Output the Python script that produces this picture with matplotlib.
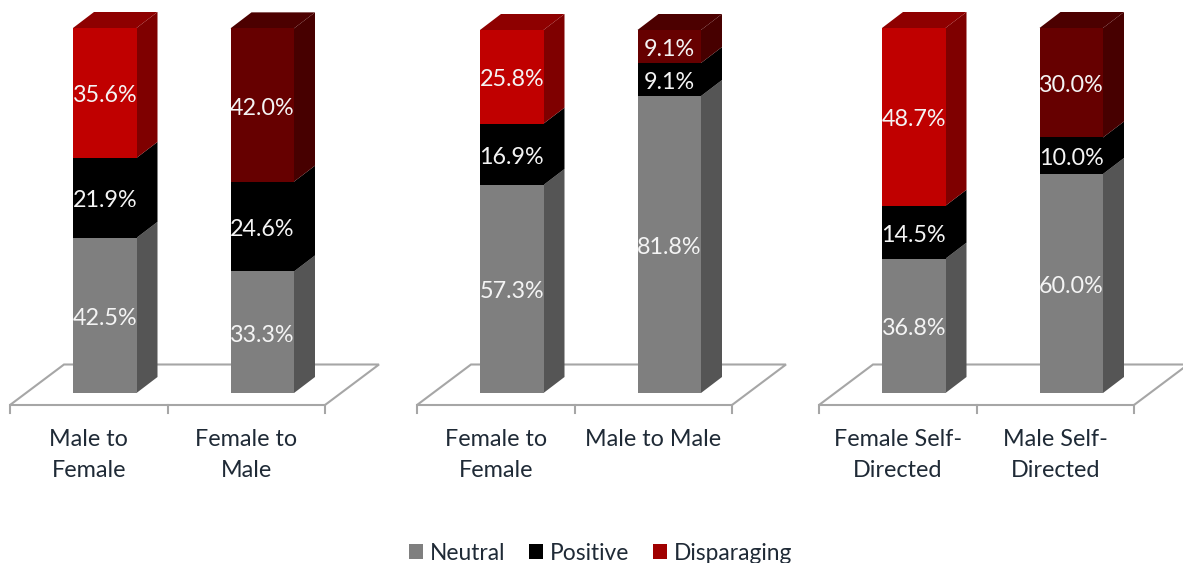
import matplotlib
matplotlib.use("Agg")
import matplotlib.pyplot as plt
from matplotlib.patches import Polygon, Patch

W, H = 1183, 563

panel_labels = [
    ["Male to\nFemale", "Female to\nMale"],
    ["Female to\nFemale", "Male to Male"],
    ["Female Self-\nDirected", "Male Self-\nDirected"],
]
neutral = [[42.5, 33.3], [57.3, 81.8], [36.8, 60.0]]
positive = [[21.9, 24.6], [16.9, 9.1], [14.5, 10.0]]
disparaging = [[35.6, 42.0], [25.8, 9.1], [48.7, 30.0]]
series_names = ["Neutral", "Positive", "Disparaging"]

# left edge of each floor and px per percent, per panel
panel_left = [10, 417, 819]
panel_scale = [3.65, 3.63, 3.65]

# (front, side, top) shades
GRAY = ("#7f7f7f", "#555555", "#555555")
BLACK = ("#000000", "#000000", "#000000")
RED = ("#c00000", "#7f0000", "#8e0000")
DARK = ("#660000", "#470000", "#4c0000")
FLOOR = "#a6a6a6"
TEXT = "#1f2a36"

plt.rcParams["font.family"] = ["Lato", "DejaVu Sans"]

SLOT = 157.5    # px per category
BAR_W = 63.5 / SLOT
DX = 21 / SLOT

fig = plt.figure(figsize=(W / 100, H / 100), dpi=100)


def draw_segment(ax, x, y0, h, shades, label, top, dy):
    x0, x1 = x - BAR_W / 2, x + BAR_W / 2
    y1 = y0 + h
    ax.bar(x, h, BAR_W, bottom=y0, color=shades[0], linewidth=0, zorder=4)
    side = [(x1, y0), (x1 + DX, y0 + dy), (x1 + DX, y1 + dy), (x1, y1)]
    ax.add_patch(Polygon(side, closed=True, fc=shades[1], ec="none", zorder=3, clip_on=False))
    if top:
        lid = [(x0, y1), (x0 + DX, y1 + dy), (x1 + DX, y1 + dy), (x1, y1)]
        ax.add_patch(Polygon(lid, closed=True, fc=shades[2], ec="none", zorder=3, clip_on=False))
    ax.text(x, y0 + h / 2 - 1 / 3.65, label, color="#f4f4f4", fontsize=16.8, ha="center",
            va="center_baseline", zorder=5)


for p, left in enumerate(panel_left):
    px_y = panel_scale[p]
    # x = -0.5 .. 1.5 covers the two slots, shifted right by the floor depth
    ax = fig.add_axes([(left + 16) / W, (H - 393) / H, 2 * SLOT / W, 100 * px_y / H])
    ax.set_xlim(-0.5, 1.5)
    ax.set_ylim(0, 100)
    ax.axis("off")

    # floor outline and its ticks
    fx = -0.5 - 16 / SLOT
    fy = -12 / px_y
    by = 28.5 / px_y
    floor = [(fx, fy), (fx + 54 / SLOT, by), (fx + 2 + 54 / SLOT, by), (fx + 2, fy)]
    ax.add_patch(Polygon(floor, closed=True, fc="white", ec=FLOOR, lw=1.5, clip_on=False, zorder=1))
    for i in range(3):
        ax.plot([fx + i, fx + i], [fy, fy - 8 / px_y], color=FLOOR, lw=1.5, clip_on=False, zorder=1)

    for i in range(2):
        bottom = 0
        red = RED if i == 0 else DARK
        vals = [neutral[p][i], positive[p][i], disparaging[p][i]]
        for k, (v, shades) in enumerate(zip(vals, (GRAY, BLACK, red))):
            draw_segment(ax, i, bottom, v, shades, "%.1f%%" % v, k == 2, 16 / px_y)
            bottom += v
        ax.text(fx + i + 0.5, -36 / px_y, panel_labels[p][i], color=TEXT, fontsize=16.8,
                ha="center", va="top", linespacing=1.56, clip_on=False)

handles = [Patch(fc=c, ec="none") for c in ("#7f7f7f", "#000000", "#a00000")]
fig.legend(handles, series_names, loc="center", bbox_to_anchor=(600.5 / W, (H - 553) / H), ncol=3,
           frameon=False, fontsize=16.4, handlelength=0.6, handleheight=0.6,
           handletextpad=0.3, columnspacing=1.05, labelcolor=TEXT, borderpad=0)

fig.savefig("out.png", dpi=100, facecolor="white")
